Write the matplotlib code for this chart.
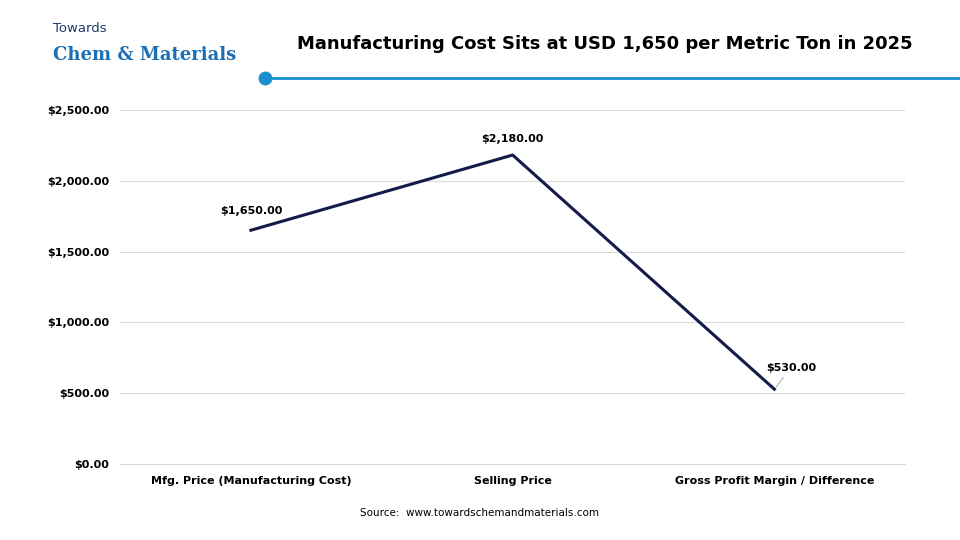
import matplotlib.pyplot as plt
from matplotlib.ticker import FuncFormatter

categories = ["Mfg. Price (Manufacturing Cost)", "Selling Price", "Gross Profit Margin / Difference"]
values = [1650, 2180, 530]
label_offsets = [(0, 8), (0, 8), (12, 12)]

fig = plt.figure(figsize=(9.6, 5.4), dpi=100)
ax = fig.add_axes([0.125, 0.14, 0.818, 0.657])

x = range(len(categories))
ax.plot(x, values, color="#141a4a", lw=2.2)
for i, (v, off) in enumerate(zip(values, label_offsets)):
    ax.annotate(f"${v:,.2f}", (i, v), xytext=off, textcoords="offset points",
                ha="center", va="bottom", fontsize=8, fontweight="bold",
                arrowprops=dict(arrowstyle="-", color="#aaaaaa", lw=0.7) if i == 2 else None)
# first label sits a bit left of the point
ax.texts[0].set_x(-0.06)
ax.texts[0].xyann = (0, 10)

ax.set_xlim(-0.5, 2.5)
ax.set_ylim(0, 2500)
ax.set_yticks(range(0, 2501, 500))
ax.yaxis.set_major_formatter(FuncFormatter(lambda v, p: f"${v:,.2f}"))
ax.set_xticks(list(x))
ax.set_xticklabels(categories)
ax.grid(axis="y", color="#d9d9d9", lw=0.8)
ax.set_axisbelow(True)
for s in ["top", "right", "left"]:
    ax.spines[s].set_visible(False)
ax.spines["bottom"].set_color("#d9d9d9")
ax.tick_params(length=0, labelsize=8, pad=8)
for t in ax.get_xticklabels() + ax.get_yticklabels():
    t.set_fontweight("bold")

fig.text(0.63, 0.918, "Manufacturing Cost Sits at USD 1,650 per Metric Ton in 2025",
         ha="center", va="center", fontsize=13, fontweight="bold")
fig.text(0.055, 0.94, "Towards", fontsize=9.5, color="#1b3a6b")
fig.text(0.055, 0.888, "Chem & Materials", fontsize=13, color="#1a6fb5",
         family="DejaVu Serif", fontweight="bold")
fig.add_artist(plt.Line2D([0.276, 1.0], [0.856, 0.856], color="#1a8fd0", lw=2))
fig.add_artist(plt.Line2D([0.276], [0.856], marker="o", color="#1a8fd0", markersize=9))
fig.text(0.5, 0.045, "Source:  www.towardschemandmaterials.com", ha="center", fontsize=7.5)

fig.savefig("out.png", dpi=100)
